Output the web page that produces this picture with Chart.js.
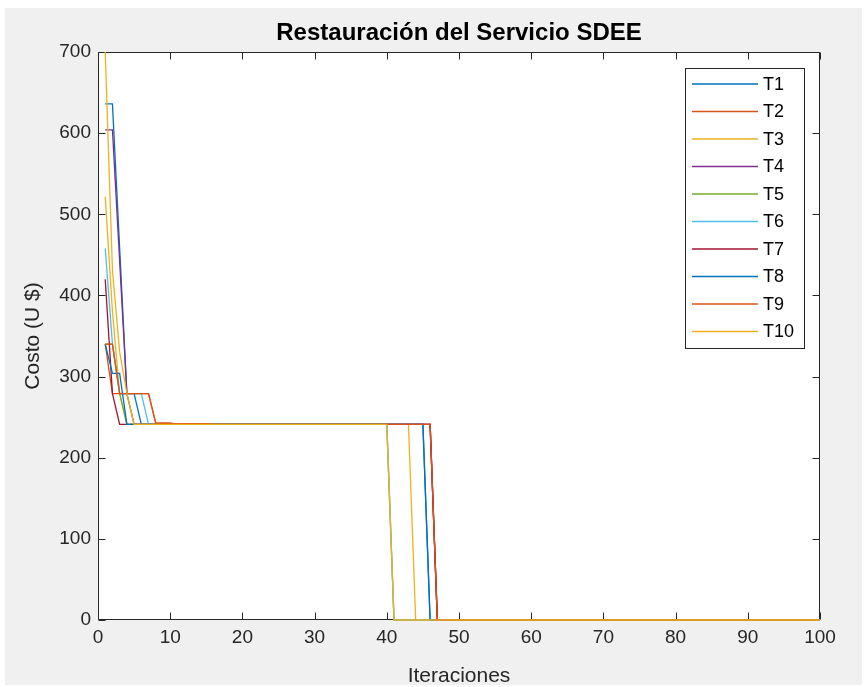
<!DOCTYPE html>
<html>
<head>
<meta charset="utf-8">
<script src="https://cdn.jsdelivr.net/npm/chart.js@4.4.1/dist/chart.umd.min.js"></script>
<style>
  html, body { margin: 0; padding: 0; background: #ffffff; }
  #wrap { width: 865px; height: 687px; }
</style>
</head>
<body>
<div id="wrap"><canvas id="c" width="865" height="687"></canvas></div>
<script>
// Costo por iteración de cada corrida (T1..T10), iteraciones 1..100
const iteraciones = Array.from({ length: 100 }, (_, i) => i + 1);

const T1 = [
  636, 636, 458, 279, 279, 241, 241, 241, 241, 241,
  241, 241, 241, 241, 241, 241, 241, 241, 241, 241,
  241, 241, 241, 241, 241, 241, 241, 241, 241, 241,
  241, 241, 241, 241, 241, 241, 241, 241, 241, 241,
  241, 241, 241, 241, 241, 0, 0, 0, 0, 0,
  0, 0, 0, 0, 0, 0, 0, 0, 0, 0,
  0, 0, 0, 0, 0, 0, 0, 0, 0, 0,
  0, 0, 0, 0, 0, 0, 0, 0, 0, 0,
  0, 0, 0, 0, 0, 0, 0, 0, 0, 0,
  0, 0, 0, 0, 0, 0, 0, 0, 0, 0
];
const T2 = [
  340, 279, 279, 279, 279, 279, 279, 243, 243, 243,
  241, 241, 241, 241, 241, 241, 241, 241, 241, 241,
  241, 241, 241, 241, 241, 241, 241, 241, 241, 241,
  241, 241, 241, 241, 241, 241, 241, 241, 241, 241,
  241, 241, 241, 241, 241, 241, 0, 0, 0, 0,
  0, 0, 0, 0, 0, 0, 0, 0, 0, 0,
  0, 0, 0, 0, 0, 0, 0, 0, 0, 0,
  0, 0, 0, 0, 0, 0, 0, 0, 0, 0,
  0, 0, 0, 0, 0, 0, 0, 0, 0, 0,
  0, 0, 0, 0, 0, 0, 0, 0, 0, 0
];
const T3 = [
  522, 380, 279, 241, 241, 241, 241, 241, 241, 241,
  241, 241, 241, 241, 241, 241, 241, 241, 241, 241,
  241, 241, 241, 241, 241, 241, 241, 241, 241, 241,
  241, 241, 241, 241, 241, 241, 241, 241, 241, 241,
  241, 241, 241, 0, 0, 0, 0, 0, 0, 0,
  0, 0, 0, 0, 0, 0, 0, 0, 0, 0,
  0, 0, 0, 0, 0, 0, 0, 0, 0, 0,
  0, 0, 0, 0, 0, 0, 0, 0, 0, 0,
  0, 0, 0, 0, 0, 0, 0, 0, 0, 0,
  0, 0, 0, 0, 0, 0, 0, 0, 0, 0
];
const T4 = [
  604, 604, 442, 279, 241, 241, 241, 241, 241, 241,
  241, 241, 241, 241, 241, 241, 241, 241, 241, 241,
  241, 241, 241, 241, 241, 241, 241, 241, 241, 241,
  241, 241, 241, 241, 241, 241, 241, 241, 241, 241,
  241, 241, 241, 241, 241, 241, 0, 0, 0, 0,
  0, 0, 0, 0, 0, 0, 0, 0, 0, 0,
  0, 0, 0, 0, 0, 0, 0, 0, 0, 0,
  0, 0, 0, 0, 0, 0, 0, 0, 0, 0,
  0, 0, 0, 0, 0, 0, 0, 0, 0, 0,
  0, 0, 0, 0, 0, 0, 0, 0, 0, 0
];
const T5 = [
  340, 340, 279, 241, 241, 241, 241, 241, 241, 241,
  241, 241, 241, 241, 241, 241, 241, 241, 241, 241,
  241, 241, 241, 241, 241, 241, 241, 241, 241, 241,
  241, 241, 241, 241, 241, 241, 241, 241, 241, 241,
  0, 0, 0, 0, 0, 0, 0, 0, 0, 0,
  0, 0, 0, 0, 0, 0, 0, 0, 0, 0,
  0, 0, 0, 0, 0, 0, 0, 0, 0, 0,
  0, 0, 0, 0, 0, 0, 0, 0, 0, 0,
  0, 0, 0, 0, 0, 0, 0, 0, 0, 0,
  0, 0, 0, 0, 0, 0, 0, 0, 0, 0
];
const T6 = [
  458, 340, 279, 279, 279, 279, 241, 241, 241, 241,
  241, 241, 241, 241, 241, 241, 241, 241, 241, 241,
  241, 241, 241, 241, 241, 241, 241, 241, 241, 241,
  241, 241, 241, 241, 241, 241, 241, 241, 241, 241,
  0, 0, 0, 0, 0, 0, 0, 0, 0, 0,
  0, 0, 0, 0, 0, 0, 0, 0, 0, 0,
  0, 0, 0, 0, 0, 0, 0, 0, 0, 0,
  0, 0, 0, 0, 0, 0, 0, 0, 0, 0,
  0, 0, 0, 0, 0, 0, 0, 0, 0, 0,
  0, 0, 0, 0, 0, 0, 0, 0, 0, 0
];
const T7 = [
  420, 279, 241, 241, 241, 241, 241, 241, 241, 241,
  241, 241, 241, 241, 241, 241, 241, 241, 241, 241,
  241, 241, 241, 241, 241, 241, 241, 241, 241, 241,
  241, 241, 241, 241, 241, 241, 241, 241, 241, 241,
  241, 241, 241, 241, 241, 241, 0, 0, 0, 0,
  0, 0, 0, 0, 0, 0, 0, 0, 0, 0,
  0, 0, 0, 0, 0, 0, 0, 0, 0, 0,
  0, 0, 0, 0, 0, 0, 0, 0, 0, 0,
  0, 0, 0, 0, 0, 0, 0, 0, 0, 0,
  0, 0, 0, 0, 0, 0, 0, 0, 0, 0
];
const T8 = [
  340, 304, 304, 241, 241, 241, 241, 241, 241, 241,
  241, 241, 241, 241, 241, 241, 241, 241, 241, 241,
  241, 241, 241, 241, 241, 241, 241, 241, 241, 241,
  241, 241, 241, 241, 241, 241, 241, 241, 241, 241,
  241, 241, 241, 241, 241, 0, 0, 0, 0, 0,
  0, 0, 0, 0, 0, 0, 0, 0, 0, 0,
  0, 0, 0, 0, 0, 0, 0, 0, 0, 0,
  0, 0, 0, 0, 0, 0, 0, 0, 0, 0,
  0, 0, 0, 0, 0, 0, 0, 0, 0, 0,
  0, 0, 0, 0, 0, 0, 0, 0, 0, 0
];
const T9 = [
  340, 340, 279, 279, 279, 279, 279, 242, 242, 242,
  242, 242, 242, 242, 242, 241, 241, 241, 241, 241,
  241, 241, 241, 241, 241, 241, 241, 241, 241, 241,
  241, 241, 241, 241, 241, 241, 241, 241, 241, 241,
  241, 241, 241, 241, 241, 241, 0, 0, 0, 0,
  0, 0, 0, 0, 0, 0, 0, 0, 0, 0,
  0, 0, 0, 0, 0, 0, 0, 0, 0, 0,
  0, 0, 0, 0, 0, 0, 0, 0, 0, 0,
  0, 0, 0, 0, 0, 0, 0, 0, 0, 0,
  0, 0, 0, 0, 0, 0, 0, 0, 0, 0
];
const T10 = [
  700, 431, 330, 279, 241, 241, 241, 241, 241, 241,
  241, 241, 241, 241, 241, 241, 241, 241, 241, 241,
  241, 241, 241, 241, 241, 241, 241, 241, 241, 241,
  241, 241, 241, 241, 241, 241, 241, 241, 241, 241,
  0, 0, 0, 0, 0, 0, 0, 0, 0, 0,
  0, 0, 0, 0, 0, 0, 0, 0, 0, 0,
  0, 0, 0, 0, 0, 0, 0, 0, 0, 0,
  0, 0, 0, 0, 0, 0, 0, 0, 0, 0,
  0, 0, 0, 0, 0, 0, 0, 0, 0, 0,
  0, 0, 0, 0, 0, 0, 0, 0, 0, 0
];

const nombres = ['T1', 'T2', 'T3', 'T4', 'T5', 'T6', 'T7', 'T8', 'T9', 'T10'];
const series = [T1, T2, T3, T4, T5, T6, T7, T8, T9, T10];
const colores = ['#0072BD', '#D95319', '#EDB120', '#7E2F8E', '#77AC30',
                 '#4DBEEE', '#A2142F', '#0072BD', '#D95319', '#EDB120'];

const xTicks = [0, 10, 20, 30, 40, 50, 60, 70, 80, 90, 100];
const yTicks = [0, 100, 200, 300, 400, 500, 600, 700];

const titulo = 'Restauración del Servicio SDEE';
const FONT = "'Liberation Sans', Arial, Helvetica, sans-serif";
const INK = '#262626';

// Figure background, white axes area, axes box with inward ticks, title
const axesPlugin = {
  id: 'axesBox',
  beforeDraw(chart) {
    const { ctx, chartArea: a } = chart;
    ctx.save();
    ctx.fillStyle = '#ffffff';
    ctx.fillRect(0, 0, chart.width, chart.height);
    ctx.fillStyle = '#f0f0f0';
    ctx.fillRect(5, 8, chart.width - 8, chart.height - 10);
    ctx.fillStyle = '#ffffff';
    ctx.fillRect(a.left, a.top, a.right - a.left, a.bottom - a.top);
    // title centred over the axes
    ctx.fillStyle = '#000000';
    ctx.font = 'bold 24px ' + FONT;
    ctx.textAlign = 'center';
    ctx.textBaseline = 'middle';
    ctx.fillText(titulo, (a.left + a.right) / 2, 33);
    ctx.restore();
  },
  beforeDatasetsDraw(chart) {
    const { ctx, chartArea: a, scales } = chart;
    const L = Math.round(a.left) + 0.5, R = Math.round(a.right) - 0.5;
    const T = Math.round(a.top) + 0.5, B = Math.round(a.bottom) - 0.5;
    const len = 7;
    ctx.save();
    ctx.strokeStyle = INK;
    ctx.lineWidth = 1;
    ctx.beginPath();
    ctx.rect(L, T, R - L, B - T);
    for (const v of xTicks) {
      const px = Math.round(scales.x.getPixelForValue(v)) + 0.5;
      ctx.moveTo(px, B); ctx.lineTo(px, B - len);
      ctx.moveTo(px, T); ctx.lineTo(px, T + len);
    }
    for (const v of yTicks) {
      const py = Math.round(scales.y.getPixelForValue(v)) + 0.5;
      ctx.moveTo(L, py); ctx.lineTo(L + len, py);
      ctx.moveTo(R, py); ctx.lineTo(R - len, py);
    }
    ctx.stroke();
    ctx.restore();
  }
};

// Boxed legend in the upper right corner of the axes
const legendPlugin = {
  id: 'boxLegend',
  afterDatasetsDraw(chart) {
    const { ctx } = chart;
    const x0 = 685.5, y0 = 68.5, w = 119, h = 280;
    ctx.save();
    ctx.fillStyle = '#ffffff';
    ctx.fillRect(x0, y0, w, h);
    ctx.strokeStyle = INK;
    ctx.lineWidth = 1;
    ctx.strokeRect(x0, y0, w, h);
    ctx.font = '18px ' + FONT;
    ctx.textBaseline = 'middle';
    ctx.textAlign = 'left';
    chart.data.datasets.forEach((ds, i) => {
      const y = 84 + i * 27.5;
      ctx.strokeStyle = ds.borderColor;
      ctx.lineWidth = 1.3;
      ctx.beginPath();
      ctx.moveTo(692, y); ctx.lineTo(758, y);
      ctx.stroke();
      ctx.fillStyle = '#000000';
      ctx.fillText(ds.label, 763, y + 1);
    });
    ctx.restore();
  }
};

new Chart(document.getElementById('c'), {
  type: 'line',
  data: {
    datasets: series.map((vals, i) => ({
      label: nombres[i],
      data: vals.map((v, k) => ({ x: iteraciones[k], y: v })),
      borderColor: colores[i],
      backgroundColor: colores[i],
      borderWidth: 1.3,
      pointRadius: 0,
      tension: 0,
      fill: false,
      clip: 3,
      // later runs are painted over earlier ones
      order: series.length - i
    }))
  },
  options: {
    responsive: false,
    animation: false,
    devicePixelRatio: 1,
    layout: { padding: { left: 0, right: 45, top: 52, bottom: 0 } },
    plugins: {
      legend: { display: false },
      tooltip: { enabled: false },
      title: { display: false }
    },
    scales: {
      x: {
        type: 'linear',
        min: 0, max: 100,
        afterBuildTicks(s) { s.ticks = xTicks.map(v => ({ value: v })); },
        afterFit(s) { s.height = 67; },
        grid: { display: false, drawTicks: false },
        border: { display: false },
        ticks: { color: INK, font: { family: FONT, size: 19 }, padding: 6, maxRotation: 0 },
        title: {
          display: true, text: 'Iteraciones', color: INK,
          font: { family: FONT, size: 21, lineHeight: 1.2 },
          padding: { top: 0, bottom: -2 }
        }
      },
      y: {
        type: 'linear',
        min: 0, max: 700,
        afterBuildTicks(s) { s.ticks = yTicks.map(v => ({ value: v })); },
        afterFit(s) { s.width = 98; },
        grid: { display: false, drawTicks: false },
        border: { display: false },
        ticks: { color: INK, font: { family: FONT, size: 19 }, padding: 7 },
        title: {
          display: true, text: 'Costo (U $)', color: INK,
          font: { family: FONT, size: 21, lineHeight: 1.2 },
          padding: { top: 21, bottom: 0 }
        }
      }
    }
  },
  plugins: [axesPlugin, legendPlugin]
});
</script>
</body>
</html>
